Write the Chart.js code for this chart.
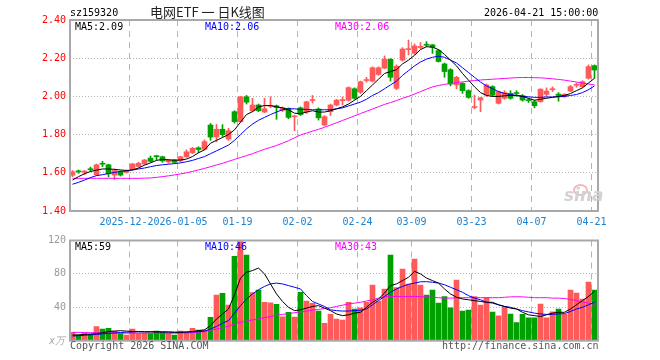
<!DOCTYPE html>
<html>
<head>
<meta charset="utf-8">
<script src="https://cdn.jsdelivr.net/npm/chart.js@4.4.1/dist/chart.umd.min.js"></script>
<style>
  html, body { margin: 0; padding: 0; background: #fff; }
  #wrap { position: relative; width: 660px; height: 360px; overflow: hidden; font-family: "DejaVu Sans Mono", monospace; font-size: 10px; }
  #kBox { position: absolute; left: 0; top: 0; width: 660px; height: 232px; }
  #vBox { position: absolute; left: 0; top: 225px; width: 660px; height: 135px; }
  .t { position: absolute; white-space: pre; line-height: 10px; }
  #title { font-family: "Noto Sans CJK SC", sans-serif; font-size: 13px; line-height: 13px; color: #222; }
  #logo { font-family: "DejaVu Sans", sans-serif; font-weight: bold; font-style: italic; font-size: 17px; line-height: 17px; color: #d2d2d2; }
  #eye { position: absolute; width: 11px; height: 8px; border: 2px solid #f4b8b8; border-radius: 50%; }
</style>
</head>
<body>
<div id="wrap">
  <div id="kBox"><canvas id="kChart"></canvas></div>
  <div id="vBox"><canvas id="vChart"></canvas></div>

  <div class="t" style="left:70px;top:8px;color:#000">sz159320</div>
  <div class="t" id="title" style="left:150px;top:5px">电网ETF 一 日K线图</div>
  <div class="t" style="left:484px;top:8px;color:#000">2026-04-21 15:00:00</div>

  <div class="t" style="left:75px;top:22px;color:#000">MA5:2.09</div>
  <div class="t" style="left:205px;top:22px;color:#0000ff">MA10:2.06</div>
  <div class="t" style="left:335px;top:22px;color:#ff00ff">MA30:2.06</div>

  <div class="t" style="left:75px;top:242px;color:#000">MA5:59</div>
  <div class="t" style="left:205px;top:242px;color:#0000ff">MA10:46</div>
  <div class="t" style="left:335px;top:242px;color:#ff00ff">MA30:43</div>

  <div class="t" style="left:49px;top:336px;color:#aaa;font-style:italic">x万</div>
  <div class="t" style="left:70px;top:341px;color:#555">Copyright 2026 SINA.COM</div>
  <div class="t" style="left:442px;top:341px;color:#555">http://finance.sina.com.cn</div>

  <div id="eye" style="left:573px;top:184px"></div>
  <div class="t" id="logo" style="left:564px;top:187px">sina</div>
</div>

<script>
// daily candles, 2025-12-08 .. 2026-04-21
const openP = [
  1.587, 1.607, 1.602, 1.618, 1.590, 1.647, 1.642, 1.588, 1.607, 1.602,
  1.618, 1.633, 1.646, 1.677, 1.686, 1.684, 1.657, 1.667, 1.662, 1.684,
  1.705, 1.731, 1.723, 1.850, 1.787, 1.828, 1.777, 1.920, 1.868, 1.998,
  1.924, 1.955, 1.918, 1.948, 1.951, 1.927, 1.938, 1.893, 1.940, 1.918,
  1.978, 1.934, 1.850, 1.920, 1.955, 1.978, 1.980, 2.040, 2.022, 2.083,
  2.080, 2.115, 2.148, 2.194, 2.042, 2.190, 2.245, 2.226, 2.256, 2.270,
  2.270, 2.240, 2.170, 2.140, 2.060, 2.068, 2.030, 1.942, 1.981, 2.007,
  2.051, 1.964, 1.990, 2.016, 2.017, 2.004, 1.980, 1.972, 1.972, 2.011,
  2.035, 2.012, 1.998, 2.028, 2.058, 2.051, 2.095, 2.161
];
const highP = [
  1.612, 1.615, 1.612, 1.630, 1.646, 1.660, 1.645, 1.620, 1.610, 1.615,
  1.650, 1.655, 1.670, 1.688, 1.692, 1.687, 1.670, 1.670, 1.687, 1.720,
  1.733, 1.736, 1.772, 1.858, 1.853, 1.852, 1.833, 1.925, 2.000, 2.005,
  1.990, 1.960, 1.990, 1.998, 1.955, 1.945, 1.940, 1.900, 1.945, 1.975,
  2.005, 1.940, 1.900, 1.960, 1.985, 1.997, 2.050, 2.045, 2.080, 2.100,
  2.155, 2.155, 2.212, 2.198, 2.165, 2.255, 2.295, 2.275, 2.282, 2.287,
  2.272, 2.245, 2.175, 2.145, 2.105, 2.072, 2.035, 2.007, 1.995, 2.065,
  2.056, 2.028, 2.030, 2.030, 2.030, 2.010, 1.990, 1.980, 2.040, 2.045,
  2.050, 2.020, 2.015, 2.058, 2.070, 2.082, 2.165, 2.165
];
const lowP = [
  1.580, 1.597, 1.590, 1.605, 1.585, 1.632, 1.578, 1.565, 1.583, 1.598,
  1.615, 1.630, 1.643, 1.655, 1.667, 1.655, 1.650, 1.650, 1.658, 1.680,
  1.700, 1.705, 1.720, 1.770, 1.762, 1.790, 1.770, 1.860, 1.865, 1.960,
  1.920, 1.920, 1.915, 1.940, 1.880, 1.920, 1.883, 1.820, 1.900, 1.910,
  1.965, 1.876, 1.845, 1.900, 1.950, 1.955, 1.975, 1.985, 2.015, 2.075,
  2.075, 2.110, 2.145, 2.080, 2.035, 2.185, 2.217, 2.220, 2.250, 2.260,
  2.225, 2.180, 2.100, 2.055, 2.040, 2.016, 1.990, 1.935, 1.920, 2.000,
  2.000, 1.960, 1.985, 1.985, 2.000, 1.975, 1.968, 1.940, 1.970, 2.000,
  2.025, 1.975, 1.995, 2.025, 2.048, 2.048, 2.090, 2.095
];
const closeP = [
  1.605, 1.605, 1.609, 1.616, 1.642, 1.645, 1.595, 1.612, 1.588, 1.610,
  1.646, 1.650, 1.667, 1.660, 1.684, 1.662, 1.667, 1.655, 1.684, 1.710,
  1.728, 1.722, 1.763, 1.787, 1.828, 1.800, 1.820, 1.868, 1.998, 1.970,
  1.955, 1.925, 1.935, 1.952, 1.942, 1.941, 1.890, 1.897, 1.905, 1.972,
  1.982, 1.888, 1.894, 1.955, 1.980, 1.982, 2.046, 1.990, 2.077, 2.088,
  2.150, 2.150, 2.195, 2.100, 2.158, 2.248, 2.250, 2.264, 2.262, 2.268,
  2.258, 2.183, 2.130, 2.065, 2.100, 2.030, 1.995, 1.946, 1.993, 2.060,
  2.007, 2.025, 2.020, 1.990, 2.015, 1.981, 1.978, 1.951, 2.038, 2.028,
  2.038, 2.005, 2.011, 2.051, 2.062, 2.077, 2.156, 2.138
];
// volume, 万手
const volume = [
  10.0, 6.8, 8.8, 7.6, 16.8, 14.0, 14.8, 11.6, 8.4, 6.8,
  14.0, 8.4, 8.8, 8.4, 11.6, 10.0, 8.8, 6.8, 11.6, 10.0,
  14.8, 12.8, 12.8, 28.0, 54.7, 56.7, 42.7, 101.0, 118.6, 102.6,
  57.5, 60.7, 45.9, 45.5, 43.5, 28.7, 33.9, 28.3, 57.9, 47.5,
  44.7, 35.5, 20.8, 31.5, 25.9, 24.8, 45.9, 37.9, 39.5, 45.9,
  66.7, 47.5, 61.9, 102.6, 63.5, 85.8, 67.9, 97.8, 66.7, 54.7,
  60.7, 45.1, 52.7, 39.5, 72.7, 35.5, 36.7, 52.7, 42.7, 51.5,
  34.3, 29.9, 40.7, 31.9, 21.6, 31.5, 27.5, 27.5, 43.9, 27.5,
  34.7, 37.9, 31.5, 60.7, 57.1, 49.9, 70.3, 60.7
];
// moving averages as drawn on the reference
const ma5 = [
  1.562, 1.580, 1.595, 1.607, 1.614, 1.620, 1.620, 1.618, 1.615, 1.612,
  1.615, 1.625, 1.640, 1.652, 1.665, 1.670, 1.668, 1.666, 1.667, 1.672,
  1.685, 1.705, 1.720, 1.755, 1.770, 1.785, 1.800, 1.825, 1.865, 1.905,
  1.920, 1.945, 1.952, 1.952, 1.945, 1.940, 1.930, 1.912, 1.910, 1.918,
  1.925, 1.918, 1.918, 1.925, 1.935, 1.945, 1.960, 1.980, 2.000, 2.030,
  2.060, 2.090, 2.120, 2.130, 2.140, 2.170, 2.190, 2.215, 2.245, 2.260,
  2.258, 2.245, 2.220, 2.190, 2.160, 2.120, 2.085, 2.050, 2.020, 2.005,
  2.000, 2.000, 2.003, 2.005, 2.005, 2.000, 1.990, 1.980, 1.985, 1.990,
  1.995, 2.000, 2.005, 2.015, 2.030, 2.045, 2.070, 2.095
];
const ma10 = [
  1.540, 1.550, 1.562, 1.575, 1.585, 1.590, 1.596, 1.602, 1.607, 1.610,
  1.615, 1.620, 1.625, 1.632, 1.638, 1.642, 1.645, 1.648, 1.652, 1.658,
  1.665, 1.675, 1.685, 1.700, 1.715, 1.730, 1.745, 1.770, 1.800, 1.830,
  1.855, 1.875, 1.890, 1.905, 1.918, 1.930, 1.935, 1.935, 1.932, 1.932,
  1.930, 1.930, 1.930, 1.930, 1.935, 1.940, 1.950, 1.960, 1.970, 1.985,
  2.005, 2.020, 2.040, 2.060, 2.080, 2.110, 2.135, 2.160, 2.180, 2.195,
  2.205, 2.210, 2.205, 2.190, 2.175, 2.150, 2.125, 2.100, 2.075, 2.055,
  2.040, 2.025, 2.015, 2.010, 2.005, 2.000, 1.998, 1.995, 1.995, 1.997,
  1.997, 1.998, 2.000, 2.005, 2.010, 2.020, 2.035, 2.055
];
const ma30 = [
  1.571, 1.571, 1.571, 1.571, 1.571, 1.571, 1.571, 1.571, 1.571, 1.571,
  1.571, 1.571, 1.572, 1.573, 1.576, 1.580, 1.584, 1.589, 1.594, 1.600,
  1.607, 1.615, 1.623, 1.632, 1.641, 1.650, 1.660, 1.670, 1.680, 1.690,
  1.700, 1.712, 1.723, 1.733, 1.743, 1.755, 1.768, 1.783, 1.798, 1.808,
  1.818, 1.828, 1.838, 1.850, 1.862, 1.874, 1.886, 1.898, 1.910, 1.922,
  1.934, 1.946, 1.958, 1.968, 1.978, 1.990, 2.000, 2.012, 2.025, 2.038,
  2.050, 2.057, 2.063, 2.068, 2.072, 2.076, 2.080, 2.083, 2.086, 2.088,
  2.090, 2.092, 2.094, 2.096, 2.098, 2.099, 2.099, 2.098, 2.097, 2.095,
  2.092, 2.089, 2.085, 2.080, 2.075, 2.070, 2.065, 2.060
];
const vma5 = [
  6.8, 7.0, 7.5, 8.0, 8.5, 9.5, 11.0, 11.5, 12.0, 11.5,
  11.0, 10.8, 10.5, 10.5, 10.5, 10.5, 10.5, 10.0, 10.0, 10.5,
  11.0, 12.0, 13.0, 18.0, 26.0, 32.0, 38.0, 55.0, 75.0, 82.0,
  84.0, 87.0, 80.0, 68.0, 56.0, 47.0, 40.0, 36.0, 37.0, 39.0,
  41.0, 42.0, 39.0, 36.0, 32.0, 30.0, 31.0, 33.0, 34.0, 40.0,
  46.0, 50.0, 57.0, 66.0, 68.0, 72.0, 76.0, 83.0, 80.0, 75.0,
  72.0, 69.0, 62.0, 56.0, 52.0, 50.0, 49.0, 48.0, 47.0, 46.0,
  46.0, 43.0, 41.0, 39.0, 38.0, 34.0, 31.0, 30.0, 29.0, 31.0,
  33.0, 34.0, 34.0, 38.0, 43.0, 48.0, 53.0, 59.0
];
const vma10 = [
  5.6, 6.0, 6.5, 7.0, 7.5, 8.2, 8.8, 9.3, 9.8, 10.2,
  10.5, 10.8, 10.8, 10.8, 10.8, 10.5, 10.3, 10.2, 10.2, 10.3,
  10.5, 10.8, 11.5, 14.0, 17.0, 21.0, 24.0, 33.0, 42.0, 50.0,
  56.0, 61.0, 65.0, 68.0, 69.0, 68.0, 66.0, 64.0, 62.0, 54.0,
  47.0, 44.0, 41.0, 37.0, 36.0, 35.5, 35.5, 36.0, 36.5, 38.0,
  43.0, 48.0, 53.0, 58.0, 62.0, 65.0, 67.5, 69.0, 70.5, 70.7,
  70.0, 69.0, 67.0, 64.0, 61.0, 58.0, 54.0, 51.0, 49.0, 46.0,
  45.0, 43.0, 41.0, 40.0, 38.0, 36.0, 34.5, 33.0, 32.0, 31.5,
  31.5, 32.0, 32.5, 35.0, 38.0, 40.0, 43.0, 46.0
];
const vma30 = [
  10.0, 10.0, 9.8, 9.6, 9.5, 9.4, 9.3, 9.2, 9.1, 9.0,
  9.0, 9.0, 9.0, 9.0, 9.0, 9.0, 9.0, 9.0, 9.0, 9.2,
  9.5, 10.0, 11.0, 12.5, 14.0, 15.5, 17.5, 20.0, 22.0, 23.5,
  25.0, 26.0, 27.5, 29.0, 30.5, 31.5, 32.5, 33.5, 34.5, 35.5,
  36.5, 37.5, 38.5, 39.5, 41.0, 42.5, 44.0, 45.0, 46.0, 47.5,
  49.0, 51.0, 52.5, 53.0, 53.0, 53.0, 53.0, 53.0, 52.7, 52.5,
  52.0, 51.5, 51.0, 51.0, 51.5, 51.5, 51.5, 51.5, 51.5, 51.5,
  51.5, 51.5, 52.0, 52.5, 52.7, 52.5, 52.0, 51.5, 51.5, 51.5,
  51.0, 51.0, 50.5, 49.5, 48.0, 46.5, 45.0, 43.5
];
// axis
const tickIdx = [10, 18, 28, 38, 48, 57, 67, 77, 87];
const tickText = ["2025-12-22", "2026-01-05", "01-19", "02-02", "02-24", "03-09", "03-23", "04-07", "04-21"];

(function () {
  const UP = "#ff5a5a";
  const DOWN = "#00a000";
  const MONO = "'DejaVu Sans Mono', monospace";
  // half-pixel shift so 5px bodies and 1px wicks land on whole pixels
  const X_MIN = -0.5 + 0.5 / 6;
  const X_MAX = 87.5 + 0.5 / 6;

  const colors = closeP.map(function (c, i) {
    return c >= openP[i] ? UP : DOWN;
  });

  function pairs(a, b) {
    return a.map(function (v, i) {
      return { x: i, y: [v, b[i]] };
    });
  }
  function pts(arr) {
    return arr.map(function (v, i) {
      return { x: i, y: v };
    });
  }
  function maLine(arr, color) {
    return {
      type: "line",
      data: pts(arr),
      borderColor: color,
      borderWidth: 1,
      pointRadius: 0,
      tension: 0,
      order: 0,
    };
  }

  const framePlugin = {
    id: "frame",
    afterDatasetsDraw: function (chart) {
      const a = chart.chartArea;
      const c = chart.ctx;
      c.save();
      c.strokeStyle = "#a8a8a8";
      c.lineWidth = 2;
      c.strokeRect(a.left, a.top, a.right - a.left, a.bottom - a.top);
      c.restore();
    },
  };

  function xScale(showLabels) {
    return {
      type: "linear",
      min: X_MIN,
      max: X_MAX,
      offset: false,
      afterBuildTicks: function (scale) {
        scale.ticks = tickIdx.map(function (v) {
          return { value: v - 0.5 };
        });
      },
      afterFit: function (scale) {
        scale.height = showLabels ? 21 : 0;
        scale.paddingLeft = 0;
        scale.paddingRight = 0;
      },
      grid: { color: "#b4b4b4", drawTicks: false, offset: false },
      border: { display: false, dash: [6, 5] },
      ticks: {
        display: showLabels,
        autoSkip: false,
        maxRotation: 0,
        padding: 5,
        color: "#1a82d2",
        font: { family: MONO, size: 10 },
        showLabelBackdrop: true,
        backdropColor: "#ffffff",
        backdropPadding: 0,
        callback: function (value, index) {
          return tickText[index];
        },
      },
    };
  }

  function yScale(min, max, step, color, fmt) {
    return {
      type: "linear",
      min: min,
      max: max,
      afterFit: function (scale) {
        scale.width = 70;
      },
      grid: {
        drawTicks: false,
        color: function (ctx) {
          const v = ctx.tick ? ctx.tick.value : 0;
          return v <= min + 1e-6 || v >= max - 1e-6 ? "rgba(0,0,0,0)" : "#b4b4b4";
        },
      },
      border: { display: false, dash: [1, 2] },
      ticks: {
        stepSize: step,
        padding: 4,
        color: color,
        font: { family: MONO, size: 10 },
        callback: fmt,
      },
    };
  }

  const common = {
    responsive: true,
    maintainAspectRatio: false,
    animation: false,
    events: [],
    plugins: { legend: { display: false }, tooltip: { enabled: false } },
  };

  new Chart(document.getElementById("kChart").getContext("2d"), {
    type: "bar",
    data: {
      datasets: [
        maLine(ma5, "#000000"),
        maLine(ma10, "#0000ff"),
        maLine(ma30, "#ff00ff"),
        {
          data: pairs(openP, closeP),
          backgroundColor: colors,
          barThickness: 5,
          minBarLength: 1,
          grouped: false,
          borderWidth: 0,
          order: 1,
        },
        {
          data: pairs(lowP, highP),
          backgroundColor: colors,
          barThickness: 1,
          grouped: false,
          borderWidth: 0,
          order: 2,
        },
      ],
    },
    options: Object.assign({}, common, {
      layout: { padding: { left: 0, right: 62, top: 20, bottom: 0 } },
      scales: {
        x: xScale(true),
        y: yScale(1.4, 2.4, 0.2, "#ff0000", function (v) {
          return Number(v).toFixed(2);
        }),
      },
    }),
    plugins: [framePlugin],
  });

  new Chart(document.getElementById("vChart").getContext("2d"), {
    type: "bar",
    data: {
      datasets: [
        maLine(vma5, "#000000"),
        maLine(vma10, "#0000ff"),
        maLine(vma30, "#ff00ff"),
        {
          data: pts(volume),
          backgroundColor: colors,
          barThickness: 5,
          grouped: false,
          borderWidth: 0,
          order: 1,
        },
      ],
    },
    options: Object.assign({}, common, {
      layout: { padding: { left: 0, right: 62, top: 15.5, bottom: 19.3 } },
      scales: {
        x: xScale(false),
        y: yScale(0, 120, 40, "#999999", function (v) {
          return v === 0 ? "" : String(v);
        }),
      },
    }),
    plugins: [framePlugin],
  });
})();
</script>
</body>
</html>
